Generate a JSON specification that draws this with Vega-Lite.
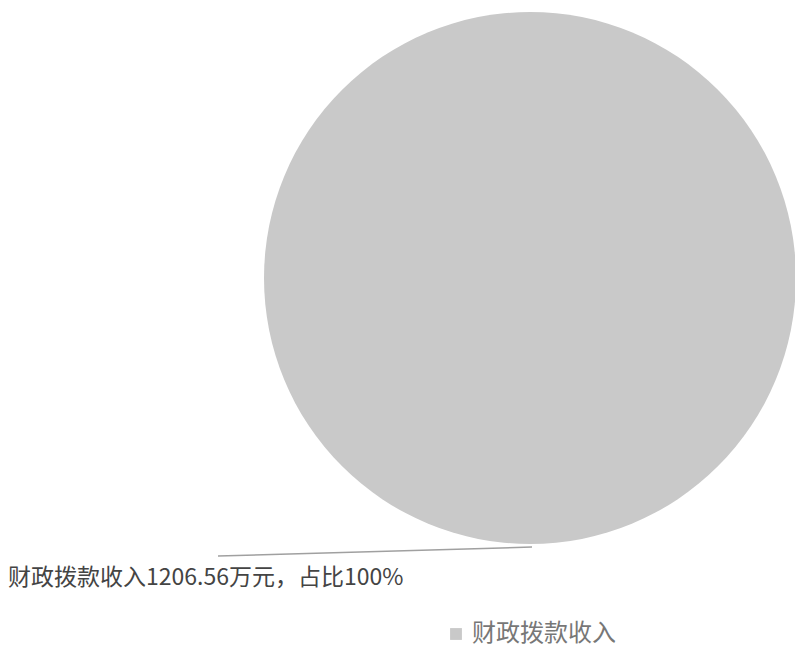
{
  "$schema": "https://vega.github.io/schema/vega-lite/v6.json",
  "width": 532,
  "height": 532,
  "autosize": {"type": "none"},
  "padding": {"left": 264, "top": 12, "right": 0, "bottom": 106},
  "background": "white",
  "config": {"view": {"stroke": null}, "font": "Noto Sans CJK SC"},
  "data": {"values": [
    {"category": "财政拨款收入", "value": 1206.56, "label": "财政拨款收入1206.56万元，占比100%"}
  ]},
  "layer": [
    {
      "mark": {"type": "arc", "outerRadius": 266, "stroke": null},
      "encoding": {
        "theta": {"field": "value", "type": "quantitative", "stack": true},
        "color": {
          "field": "category", "type": "nominal",
          "scale": {"range": ["#c9c9c9"]},
          "legend": {
            "title": null, "orient": "none", "legendX": 180, "legendY": 610,
            "symbolType": "square", "symbolSize": 140, "symbolStrokeWidth": 0,
            "labelFontSize": 24, "labelColor": "#777777", "labelFont": "Noto Sans CJK SC",
            "labelOffset": 4
          }
        }
      }
    },
    {
      "mark": {"type": "rule", "stroke": "#a0a0a0", "strokeWidth": 1.5},
      "encoding": {
        "x": {"value": -46},
        "y": {"value": 544},
        "x2": {"value": 268},
        "y2": {"value": 535}
      }
    },
    {
      "mark": {"type": "text", "radius": 300, "align": "left", "baseline": "middle", "dx": -522, "fontSize": 23, "fill": "#444444", "font": "Noto Sans CJK SC"},
      "encoding": {
        "theta": {"field": "value", "type": "quantitative", "stack": true},
        "text": {"field": "label", "type": "nominal"}
      }
    }
  ]
}
